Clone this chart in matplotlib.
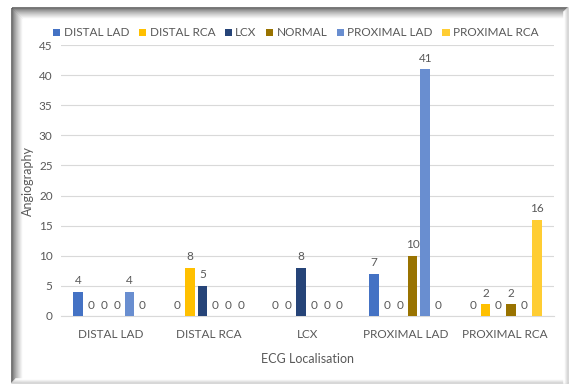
import matplotlib.pyplot as plt
import numpy as np

# data
locations = ['DISTAL LAD', 'DISTAL RCA', 'LCX', 'PROXIMAL LAD', 'PROXIMAL RCA']
series = ['DISTAL LAD', 'DISTAL RCA', 'LCX', 'NORMAL', 'PROXIMAL LAD', 'PROXIMAL RCA']
distal_lad = [4, 0, 0, 7, 0]
distal_rca = [0, 8, 0, 0, 2]
lcx = [0, 5, 8, 0, 0]
normal = [0, 0, 0, 10, 2]
proximal_lad = [4, 0, 0, 41, 0]
proximal_rca = [0, 0, 0, 0, 16]
values = [distal_lad, distal_rca, lcx, normal, proximal_lad, proximal_rca]

colors = ['#4472C4', '#FFC000', '#264478', '#997300', '#698ED0', '#FFCD33']
txt = '#595959'

plt.rcParams['font.family'] = ['Lato', 'DejaVu Sans']

fig = plt.figure(figsize=(5.71, 3.85), dpi=100)

# shaded frame round the chart
bg = fig.add_axes([0, 0, 1, 1], zorder=-5)
bg.set_xlim(0, 571)
bg.set_ylim(385, 0)
bg.axis('off')
for i in range(12):
    c = 0.33 + 0.67 * (i / 11) ** 0.7
    bg.plot([12 + i, 12 + i], [8 + i, 383], color=(c, c, c), lw=1.1, solid_capstyle='butt')
    bg.plot([12 + i, 568], [8 + i, 8 + i], color=(c, c, c), lw=1.1, solid_capstyle='butt')
for i in range(5):
    c = 0.80 + 0.2 * i / 4
    bg.plot([568 - i, 568 - i], [8 + i, 383], color=(c, c, c), lw=1.1)
    bg.plot([12 + i, 568 - i], [383 - i, 383 - i], color=(c, c, c), lw=1.1)

ax = fig.add_axes([61 / 571, 1 - 316 / 385, 493 / 571, 271 / 385])
x = np.arange(len(locations))
pitch = 0.13
width = 0.10
for k, (name, vals) in enumerate(zip(series, values)):
    pos = x + (k - 2.5) * pitch
    ax.bar(pos, vals, width, color=colors[k], label=name, zorder=3)
    for p, v in zip(pos, vals):
        ax.text(p, v + 0.9, str(v), ha='center', va='bottom', fontsize=8.5, color=txt)

ax.set_xlim(-0.5, len(locations) - 0.5)
ax.set_ylim(0, 45)
ax.set_yticks(range(0, 46, 5))
ax.set_xticks(x)
ax.set_xticklabels(locations)
ax.tick_params(axis='both', length=0, labelsize=8.5, labelcolor=txt)
ax.tick_params(axis='x', pad=9)
ax.tick_params(axis='y', pad=6)
ax.grid(axis='y', color='#D9D9D9', lw=0.8, zorder=0)
for s in ['top', 'right', 'left']:
    ax.spines[s].set_visible(False)
ax.spines['bottom'].set_color('#D9D9D9')
ax.set_xlabel('ECG Localisation', fontsize=9, color=txt, labelpad=10)
ax.set_ylabel('Angiography', fontsize=9, color=txt)
ax.yaxis.set_label_coords(-27 / 493, 0.5)

fig.legend(loc='center', bbox_to_anchor=(296 / 571, 1 - 33 / 385), ncol=6, frameon=False,
           fontsize=8.5, handlelength=0.6, handleheight=0.6, handletextpad=0.3,
           columnspacing=0.8, labelcolor=txt)

fig.savefig('out.png', dpi=100)
